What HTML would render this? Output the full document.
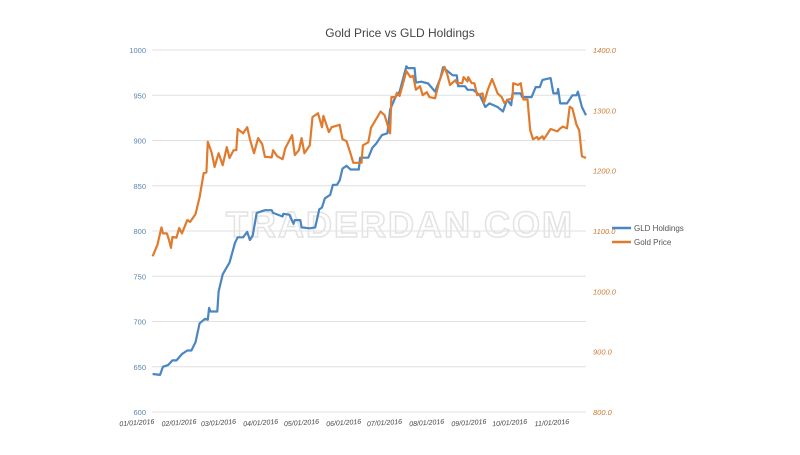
<!DOCTYPE html>
<html><head><meta charset="utf-8"><style>
body{margin:0;background:#fff;width:800px;height:450px;overflow:hidden;font-family:"Liberation Sans",sans-serif}
</style></head><body>
<svg id="chart" width="800" height="450" xmlns="http://www.w3.org/2000/svg">
<rect width="800" height="450" fill="#fff"/>
<text x="400" y="37" text-anchor="middle" font-size="12" fill="#444">Gold Price vs GLD Holdings</text>
<g id="grid"></g>
<text x="400" y="237" text-anchor="middle" font-size="36" font-weight="bold" letter-spacing="2" fill="none" stroke="#e3e3e3" stroke-width="1.5">TRADERDAN.COM</text>
<g id="axes"></g>
<g id="series"></g>
<g>
<line x1="612" y1="228" x2="631" y2="228" stroke="#4a86c0" stroke-width="2.5"/>
<text x="634" y="231" font-size="8" fill="#555">GLD Holdings</text>
<line x1="612" y1="242" x2="631" y2="242" stroke="#e07b2e" stroke-width="2.5"/>
<text x="634" y="245" font-size="8" fill="#555">Gold Price</text>
</g>
</svg>
<script>
const leftTicks=[600,650,700,750,800,850,900,950,1000];
const rightTicks=[800,900,1000,1100,1200,1300,1400];
const monthLabels=["01/01/2016","02/01/2016","03/01/2016","04/01/2016","05/01/2016","06/01/2016","07/01/2016","08/01/2016","09/01/2016","10/01/2016","11/01/2016"];
const monthDays=[0,31,60,91,121,152,182,213,244,274,305];
const gldDays=[11.5,17,19,23,26,29,33,37,40,43,46,50,52,53,54,59,60,63,66,68,72,74,78,81,83,85,88,92,94,99,100,107,107.5,112,115,116,120,121,127,131,134,136,138,142,144,147,149,151,154,157,163,164,170,173,176,180,184,186,190,193,198,199,204,205,209,214,219,223,225,228,232,235,236,241,243,247,252,256,259,265,269,272,275,276,282,283,290,293,296,298,304,306,309,309.5,311,316,320,323,324,327,330];
const gldValues=[642,641,650,652,657,657,664,668,668,677,698,703,702,715,711,711,733,752,760,765,787,793,793,799,790,795,820,822,823,823,820,816,819,818,808,812,812,804,803,804,824,826,836,840,851,851,856,869,872,868,868,881,881,892,897,906,908,934,948,954,982,980,980,964,965,963,954,969,981,977,972,972,960,960,956,956,950,937,941,937,932,945,939,952,952,948,948,959,959,967,969,952,952,957,941,941,950,950,954,937,928];
const goldDays=[11.5,15,18,19,22,23.5,25,26,29,31,33,37,39,43,46,49,51,52,55,57,60,63,66,68,71,73,74,78,81,83,86,89,92,94,99,100,103,107,109,114,116,119,121,123,127,129,133,136,137,141,143,149,151,154,157,159,165,166,170,172,179,182,186,187,190,191,193,198,201,203,205,208,210,213,215,219,222,226,228,230,234,235,239,240,243,243.5,246,248,250,254,255,258,261,265,268,270,273,276,276.5,280,282,284,287,289,291,294,295,298,299,301,304,309,311,313,316,318,320,323,325,327,330];
const goldValues=[1058,1077,1106,1096,1096,1085,1072,1090,1089,1105,1096,1118,1115,1128,1156,1196,1197,1248,1229,1206,1229,1209,1239,1221,1234,1234,1269,1262,1272,1252,1229,1254,1244,1223,1222,1234,1224,1219,1237,1259,1226,1234,1254,1229,1242,1289,1295,1272,1291,1264,1272,1276,1252,1249,1228,1213,1213,1242,1247,1271,1298,1292,1262,1322,1322,1329,1324,1365,1355,1357,1334,1340,1325,1330,1322,1320,1347,1372,1360,1342,1350,1345,1345,1355,1348,1355,1345,1345,1325,1328,1312,1335,1352,1328,1322,1312,1318,1320,1345,1342,1345,1318,1318,1267,1252,1256,1252,1257,1252,1259,1269,1265,1270,1273,1270,1306,1303,1276,1267,1224,1221];

const NS="http://www.w3.org/2000/svg";
const xS=d=>137+d*(415/305);
const yL=v=>412-(v-600)*(362/400);
const yR=v=>412-(v-800)*(362/600);
function mk(tag,attrs,parent){const e=document.createElementNS(NS,tag);for(const k in attrs)e.setAttribute(k,attrs[k]);parent.appendChild(e);return e;}
const grid=document.getElementById('grid'),axes=document.getElementById('axes'),ser=document.getElementById('series');
leftTicks.forEach(v=>{
  const l=mk('line',{x1:152,x2:586,y1:yL(v),y2:yL(v),stroke:'#e0e0e0','stroke-width':1},grid);
  
  
  const t=mk('text',{x:146,y:yL(v)+3,'text-anchor':'end','font-size':7.5,fill:'#5a86b0'},axes);
  t.textContent=v;
  
  
});
rightTicks.forEach(v=>{
  const t=mk('text',{x:593,y:yR(v)+3,'font-size':7.5,'font-style':'italic',fill:'#d07a30'},axes);
  t.textContent=v.toFixed(1);
  
  
});
monthLabels.forEach((m,i)=>{
  const x=xS(monthDays[i]);
  const t=mk('text',{x:x,y:425,'text-anchor':'middle','font-size':7,'font-style':'italic',fill:'#444',transform:`rotate(-4 ${x} 425)`},axes);
  t.textContent=m;
  
  
});
const p1=mk('path',{d:gldDays.map((d,i)=>(i?'L':'M')+xS(d).toFixed(1)+','+yL(gldValues[i]).toFixed(1)).join(''),fill:'none',stroke:'#4a86c0','stroke-width':2.2,'stroke-linejoin':'round'},ser);


const p2=mk('path',{d:goldDays.map((d,i)=>(i?'L':'M')+xS(d).toFixed(1)+','+yR(goldValues[i]).toFixed(1)).join(''),fill:'none',stroke:'#e07b2e','stroke-width':2.2,'stroke-linejoin':'round'},ser);


</script>
</body></html>
